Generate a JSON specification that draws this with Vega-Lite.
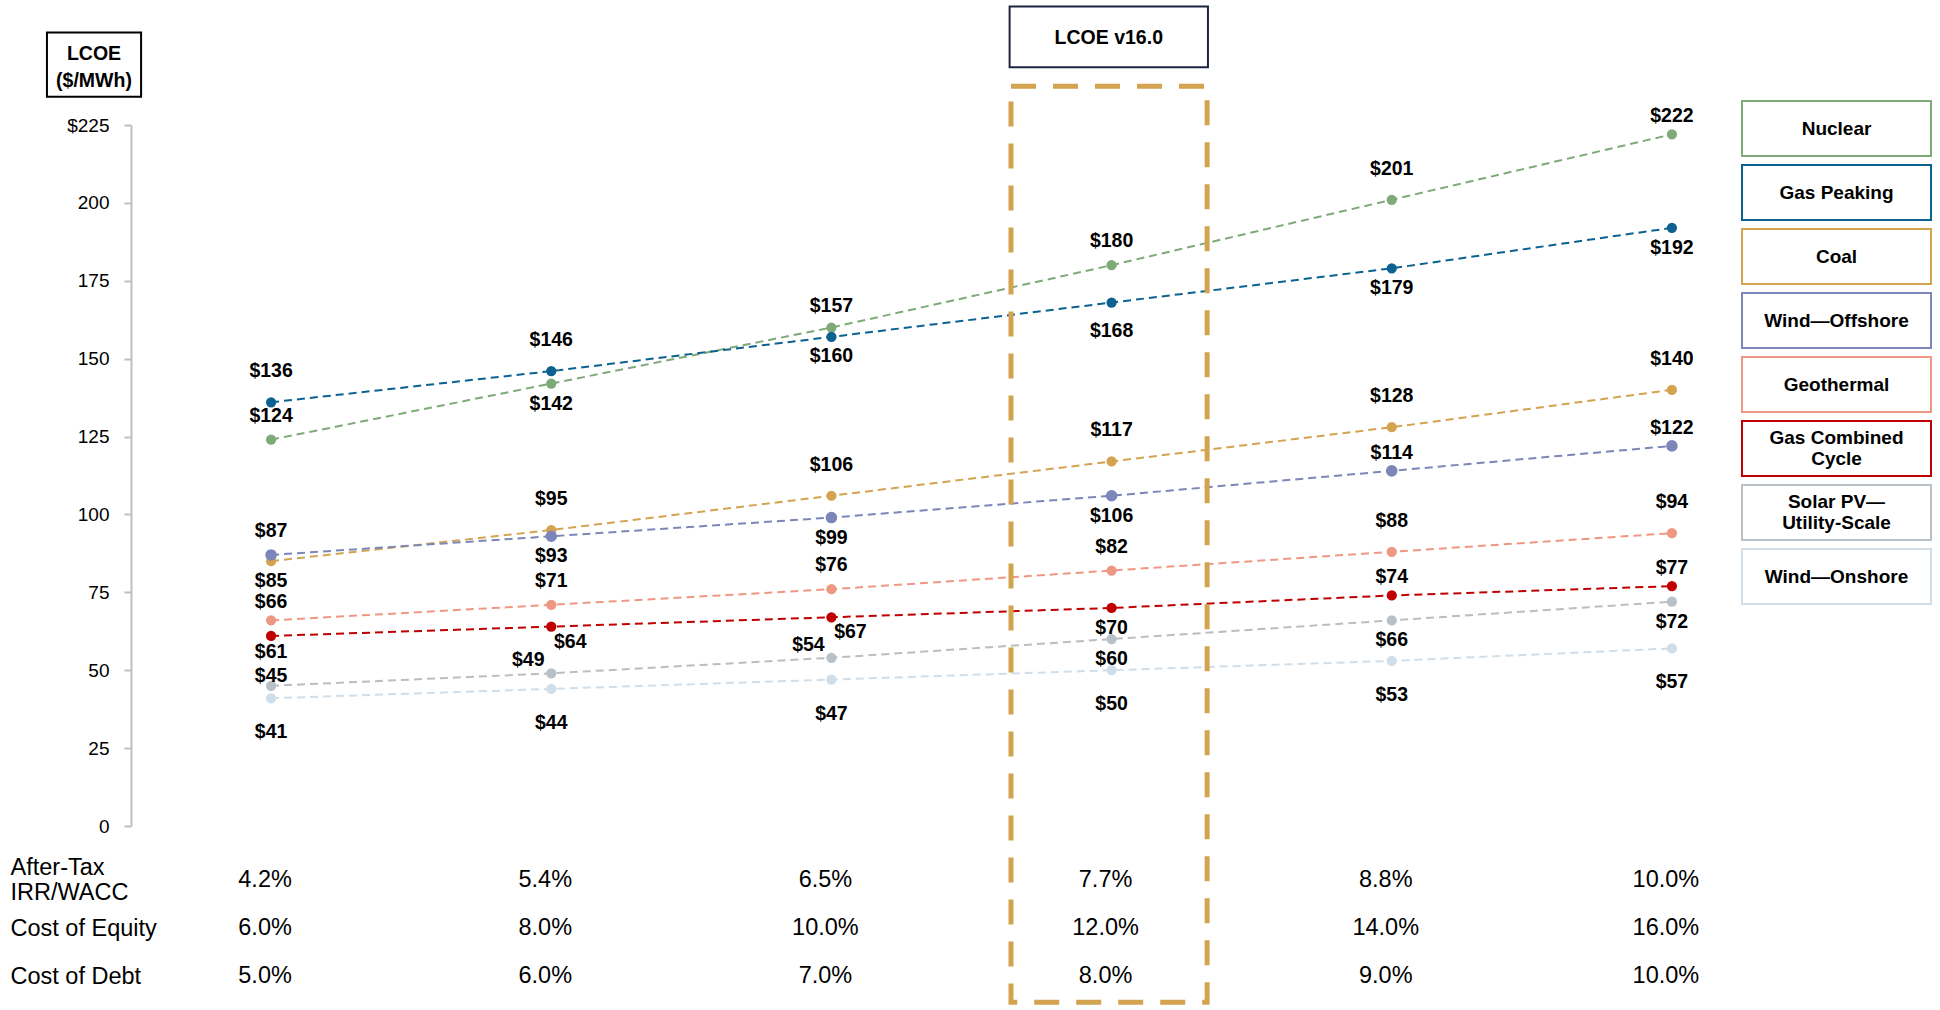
{
  "$schema": "https://vega.github.io/schema/vega-lite/v6.json",
  "width": 1681,
  "height": 701,
  "autosize": {"type": "none"},
  "padding": {"left": 131, "top": 125, "right": 128, "bottom": 184},
  "background": "white",
  "config": {
    "view": {"stroke": null},
    "style": {"guide-label": {"lineHeight": 21}},
    "text": {"font": "Liberation Sans, Arial, sans-serif", "fontSize": 19.5, "fontWeight": "bold", "color": "#000000"}
  },
  "datasets": {
    "lcoe": [
      {"series": "Nuclear", "s": 1, "v": 124}, {"series": "Nuclear", "s": 2, "v": 142}, {"series": "Nuclear", "s": 3, "v": 160},
      {"series": "Nuclear", "s": 4, "v": 180}, {"series": "Nuclear", "s": 5, "v": 201}, {"series": "Nuclear", "s": 6, "v": 222},
      {"series": "Gas Peaking", "s": 1, "v": 136}, {"series": "Gas Peaking", "s": 2, "v": 146}, {"series": "Gas Peaking", "s": 3, "v": 157},
      {"series": "Gas Peaking", "s": 4, "v": 168}, {"series": "Gas Peaking", "s": 5, "v": 179}, {"series": "Gas Peaking", "s": 6, "v": 192},
      {"series": "Coal", "s": 1, "v": 85}, {"series": "Coal", "s": 2, "v": 95}, {"series": "Coal", "s": 3, "v": 106},
      {"series": "Coal", "s": 4, "v": 117}, {"series": "Coal", "s": 5, "v": 128}, {"series": "Coal", "s": 6, "v": 140},
      {"series": "Wind—Offshore", "s": 1, "v": 87}, {"series": "Wind—Offshore", "s": 2, "v": 93}, {"series": "Wind—Offshore", "s": 3, "v": 99},
      {"series": "Wind—Offshore", "s": 4, "v": 106}, {"series": "Wind—Offshore", "s": 5, "v": 114}, {"series": "Wind—Offshore", "s": 6, "v": 122},
      {"series": "Geothermal", "s": 1, "v": 66}, {"series": "Geothermal", "s": 2, "v": 71}, {"series": "Geothermal", "s": 3, "v": 76},
      {"series": "Geothermal", "s": 4, "v": 82}, {"series": "Geothermal", "s": 5, "v": 88}, {"series": "Geothermal", "s": 6, "v": 94},
      {"series": "Gas Combined Cycle", "s": 1, "v": 61}, {"series": "Gas Combined Cycle", "s": 2, "v": 64}, {"series": "Gas Combined Cycle", "s": 3, "v": 67},
      {"series": "Gas Combined Cycle", "s": 4, "v": 70}, {"series": "Gas Combined Cycle", "s": 5, "v": 74}, {"series": "Gas Combined Cycle", "s": 6, "v": 77},
      {"series": "Solar PV—Utility-Scale", "s": 1, "v": 45}, {"series": "Solar PV—Utility-Scale", "s": 2, "v": 49}, {"series": "Solar PV—Utility-Scale", "s": 3, "v": 54},
      {"series": "Solar PV—Utility-Scale", "s": 4, "v": 60}, {"series": "Solar PV—Utility-Scale", "s": 5, "v": 66}, {"series": "Solar PV—Utility-Scale", "s": 6, "v": 72},
      {"series": "Wind—Onshore", "s": 1, "v": 41}, {"series": "Wind—Onshore", "s": 2, "v": 44}, {"series": "Wind—Onshore", "s": 3, "v": 47},
      {"series": "Wind—Onshore", "s": 4, "v": 50}, {"series": "Wind—Onshore", "s": 5, "v": 53}, {"series": "Wind—Onshore", "s": 6, "v": 57}
    ],
    "table": [
      {"row": "After-Tax IRR/WACC", "s": 1, "t": "4.2%"}, {"row": "After-Tax IRR/WACC", "s": 2, "t": "5.4%"}, {"row": "After-Tax IRR/WACC", "s": 3, "t": "6.5%"},
      {"row": "After-Tax IRR/WACC", "s": 4, "t": "7.7%"}, {"row": "After-Tax IRR/WACC", "s": 5, "t": "8.8%"}, {"row": "After-Tax IRR/WACC", "s": 6, "t": "10.0%"},
      {"row": "Cost of Equity", "s": 1, "t": "6.0%"}, {"row": "Cost of Equity", "s": 2, "t": "8.0%"}, {"row": "Cost of Equity", "s": 3, "t": "10.0%"},
      {"row": "Cost of Equity", "s": 4, "t": "12.0%"}, {"row": "Cost of Equity", "s": 5, "t": "14.0%"}, {"row": "Cost of Equity", "s": 6, "t": "16.0%"},
      {"row": "Cost of Debt", "s": 1, "t": "5.0%"}, {"row": "Cost of Debt", "s": 2, "t": "6.0%"}, {"row": "Cost of Debt", "s": 3, "t": "7.0%"},
      {"row": "Cost of Debt", "s": 4, "t": "8.0%"}, {"row": "Cost of Debt", "s": 5, "t": "9.0%"}, {"row": "Cost of Debt", "s": 6, "t": "10.0%"}
    ]
  },
  "resolve": {"scale": {"y": "independent"}},
  "layer": [
    {
      "layer": [
        {
          "data": {"name": "lcoe"},
          "encoding": {
            "x": {"field": "s", "type": "quantitative", "scale": {"domain": [0.5, 6.5], "nice": false, "zero": false},
                  "axis": {"labels": false, "ticks": false, "grid": false, "title": null, "domainColor": "#BFBFBF", "domainWidth": 2}},
            "y": {"field": "v", "type": "quantitative", "scale": {"domain": [0, 225], "nice": false, "zero": true},
                  "axis": {"values": [0, 25, 50, 75, 100, 125, 150, 175, 200, 225], "grid": false, "title": null,
                           "domainColor": "#BFBFBF", "domainWidth": 2, "tickColor": "#BFBFBF", "tickWidth": 2, "tickSize": 7,
                           "labelPadding": 15, "labelFont": "Liberation Sans, Arial, sans-serif",
                           "labelFontSize": 19, "labelColor": "#000000",
                           "labelExpr": "datum.value == 225 ? '$225' : datum.label"}}
          },
          "layer": [
            {
              "mark": {"type": "line", "strokeWidth": 2, "strokeDash": [8, 5]},
              "encoding": {
                "color": {"field": "series", "type": "nominal",
                  "scale": {"domain": ["Nuclear", "Gas Peaking", "Coal", "Wind—Offshore", "Geothermal", "Gas Combined Cycle", "Solar PV—Utility-Scale", "Wind—Onshore"],
                            "range": ["#7DAA77", "#0B6290", "#D4A350", "#7C86B8", "#EE9883", "#C00000", "#BDBDBD", "#CFDEE9"]},
                  "legend": {"orient": "none", "legendX": 1676, "legendY": -26, "title": null, "direction": "vertical",
                             "symbolType": "M-3.2373,-0.9661H3.2373V0.9661H-3.2373Z M-3.1695,-0.8983V0.8983H3.1695V-0.8983Z",
                             "symbolSize": 3481, "symbolStrokeWidth": 0, "symbolDash": [1, 0], "symbolOpacity": 1,
                             "labelAlign": "center", "labelOffset": -29.5, "labelFont": "Liberation Sans, Arial, sans-serif",
                             "labelFontSize": 19, "labelFontWeight": "bold", "labelColor": "#000000", "labelLimit": 250,
                             "labelBaseline": {"expr": "datum.label == 'Gas Combined Cycle' || datum.label == 'Solar PV—Utility-Scale' ? 'line-bottom' : 'middle'"},
                             "rowPadding": 6, "padding": 0,
                             "labelExpr": "datum.label == 'Gas Combined Cycle' ? ['Gas Combined', 'Cycle'] : datum.label == 'Solar PV—Utility-Scale' ? ['Solar PV—', 'Utility-Scale'] : datum.label"}}
              }
            },
            {
              "mark": {"type": "circle", "opacity": 1, "strokeWidth": 0},
              "encoding": {
                "fill": {"field": "series", "type": "nominal",
                  "scale": {"domain": ["Nuclear", "Gas Peaking", "Coal", "Wind—Offshore", "Geothermal", "Gas Combined Cycle", "Solar PV—Utility-Scale", "Wind—Onshore"],
                            "range": ["#7DAA77", "#0B6290", "#D4A350", "#7C86B8", "#EE9883", "#C00000", "#B8C1C8", "#CFDEE9"]},
                  "legend": null},
                "size": {"condition": {"test": "datum.series == 'Wind—Offshore'", "value": 135}, "value": 105}
              }
            },
            {
              "transform": [{"filter": "(datum.series=='Gas Peaking' && datum.s<=3) || (datum.series=='Coal' && datum.s>=2) || (datum.series=='Geothermal' && datum.s>=5) || (datum.series=='Nuclear' && datum.s==5)"}],
              "mark": {"type": "text", "dy": -31},
              "encoding": {"text": {"field": "v", "type": "quantitative", "format": "$.0f"}}
            },
            {
              "transform": [{"filter": "(datum.series=='Nuclear' && (datum.s==1 || datum.s==4)) || (datum.series=='Wind—Offshore' && datum.s==1) || (datum.series=='Geothermal' && datum.s>=2 && datum.s<=4)"}],
              "mark": {"type": "text", "dy": -24},
              "encoding": {"text": {"field": "v", "type": "quantitative", "format": "$.0f"}}
            },
            {
              "transform": [{"filter": "(datum.series=='Nuclear' && datum.s==6) || (datum.series=='Wind—Offshore' && datum.s>=5) || (datum.series=='Gas Combined Cycle' && datum.s>=5) || (datum.series=='Geothermal' && datum.s==1)"}],
              "mark": {"type": "text", "dy": -18},
              "encoding": {"text": {"field": "v", "type": "quantitative", "format": "$.0f"}}
            },
            {
              "transform": [{"filter": "datum.series=='Solar PV—Utility-Scale' && datum.s==1"}],
              "mark": {"type": "text", "dy": -10},
              "encoding": {"text": {"field": "v", "type": "quantitative", "format": "$.0f"}}
            },
            {
              "transform": [{"filter": "datum.series=='Gas Combined Cycle' && datum.s==1"}],
              "mark": {"type": "text", "dy": 16},
              "encoding": {"text": {"field": "v", "type": "quantitative", "format": "$.0f"}}
            },
            {
              "transform": [{"filter": "(datum.series=='Nuclear' && datum.s==2) || (datum.series=='Coal' && datum.s==1) || (datum.series=='Wind—Offshore' && datum.s>=2 && datum.s<=4) || (datum.series=='Gas Combined Cycle' && datum.s==4) || (datum.series=='Solar PV—Utility-Scale' && datum.s>=4) || (datum.series=='Gas Peaking' && datum.s>=5)"}],
              "mark": {"type": "text", "dy": 20},
              "encoding": {"text": {"field": "v", "type": "quantitative", "format": "$.0f"}}
            },
            {
              "transform": [{"filter": "(datum.series=='Nuclear' && datum.s==3) || (datum.series=='Gas Peaking' && datum.s==4)"}],
              "mark": {"type": "text", "dy": 28},
              "encoding": {"text": {"field": "v", "type": "quantitative", "format": "$.0f"}}
            },
            {
              "transform": [{"filter": "datum.series=='Wind—Onshore'"}],
              "mark": {"type": "text", "dy": 34},
              "encoding": {"text": {"field": "v", "type": "quantitative", "format": "$.0f"}}
            },
            {
              "transform": [{"filter": "datum.series=='Gas Combined Cycle' && (datum.s==2 || datum.s==3)"}],
              "mark": {"type": "text", "dx": 19, "dy": 15},
              "encoding": {"text": {"field": "v", "type": "quantitative", "format": "$.0f"}}
            },
            {
              "transform": [{"filter": "datum.series=='Solar PV—Utility-Scale' && (datum.s==2 || datum.s==3)"}],
              "mark": {"type": "text", "dx": -23, "dy": -13},
              "encoding": {"text": {"field": "v", "type": "quantitative", "format": "$.0f"}}
            }
          ]
        },
        {
          "data": {"values": [{"box": "LCOE v16.0"}]},
          "mark": {"type": "rect", "filled": false, "stroke": "#D4A350", "strokeWidth": 5, "strokeDash": [25, 17]},
          "encoding": {
            "x": {"datum": 3.641, "type": "quantitative"}, "x2": {"datum": 4.341},
            "y": {"datum": 237.4, "type": "quantitative"}, "y2": {"datum": -56.6}
          }
        },
        {
          "data": {"values": [{"t": "LCOE v16.0"}]},
          "mark": {"type": "rect", "fill": "#FFFFFF", "stroke": "#1F2540", "strokeWidth": 2},
          "encoding": {
            "x": {"datum": 3.636, "type": "quantitative"}, "x2": {"datum": 4.344},
            "y": {"datum": 263.0, "type": "quantitative"}, "y2": {"datum": 243.5}
          }
        },
        {
          "data": {"values": [{"t": "LCOE v16.0"}]},
          "mark": {"type": "text", "fontSize": 19.5},
          "encoding": {
            "x": {"datum": 3.99, "type": "quantitative"}, "y": {"datum": 253.0, "type": "quantitative"},
            "text": {"field": "t"}
          }
        },
        {
          "data": {"values": [{"t": "LCOE\n($/MWh)"}]},
          "mark": {"type": "rect", "fill": "#FFFFFF", "stroke": "#000000", "strokeWidth": 2},
          "encoding": {
            "x": {"datum": 0.2, "type": "quantitative"}, "x2": {"datum": 0.536},
            "y": {"datum": 254.7, "type": "quantitative"}, "y2": {"datum": 234.1}
          }
        },
        {
          "data": {"values": [{"t": "LCOE\n($/MWh)"}]},
          "mark": {"type": "text", "fontSize": 19.5, "lineBreak": "\n", "lineHeight": 27},
          "encoding": {
            "x": {"datum": 0.368, "type": "quantitative"}, "y": {"datum": 247.8, "type": "quantitative"},
            "text": {"field": "t"}
          }
        }
      ]
    },
    {
      "data": {"name": "table"},
      "mark": {"type": "text", "font": "Liberation Sans, Arial, sans-serif", "fontSize": 23.5, "fontWeight": "normal", "dx": -6},
      "encoding": {
        "x": {"field": "s", "type": "quantitative", "axis": null},
        "y": {"field": "row", "type": "nominal",
              "scale": {"type": "point", "domain": ["After-Tax IRR/WACC", "Cost of Equity", "Cost of Debt"], "range": [755, 851], "padding": 0},
              "axis": {"orient": "left", "domain": false, "ticks": false, "tickSize": 0, "grid": false, "title": null,
                       "labelAlign": "left", "labelPadding": 121, "labelFont": "Liberation Sans, Arial, sans-serif",
                       "labelFontSize": 23.5, "labelColor": "#000000", "labelLineHeight": 25, "labelOverlap": false,
                       "labelOffset": {"condition": {"test": "datum.value == 'After-Tax IRR/WACC'", "value": -12.5}, "value": 0},
                       "labelExpr": "datum.value == 'After-Tax IRR/WACC' ? ['After-Tax', 'IRR/WACC'] : datum.label"}},
        "text": {"field": "t"}
      }
    }
  ]
}
